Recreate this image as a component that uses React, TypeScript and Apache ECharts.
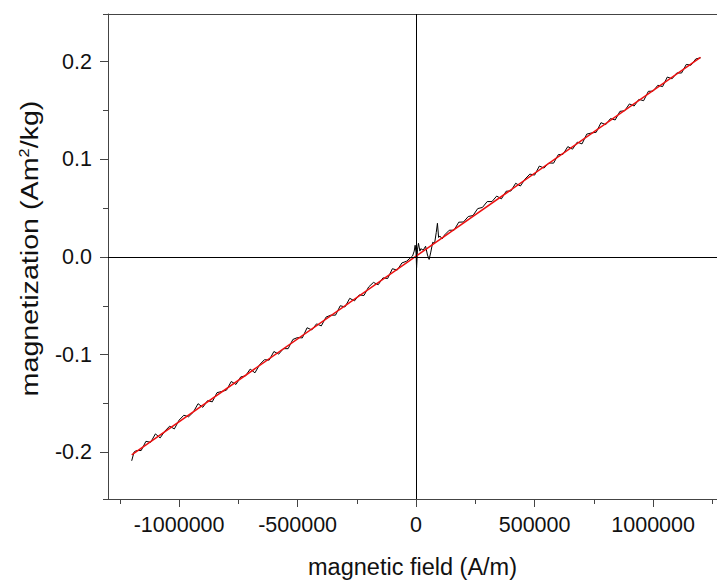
import React, { useEffect, useRef } from "react";
import * as echarts from "echarts";

// magnetic field (A/m) of the measured curve
const fieldValues = [
  -1200000, -1190000, -1180000, -1160000, -1140000, -1120000, -1100000, -1080000, -1060000, -1040000,
  -1020000, -1000000, -980000, -960000, -940000, -920000, -900000, -880000, -860000, -840000,
  -820000, -800000, -780000, -760000, -740000, -720000, -700000, -680000, -660000, -640000,
  -620000, -600000, -580000, -560000, -540000, -520000, -500000, -480000, -460000, -440000,
  -420000, -400000, -380000, -360000, -340000, -320000, -300000, -280000, -260000, -240000,
  -220000, -200000, -180000, -160000, -140000, -120000, -100000, -80000, -60000, -40000,
  -20000, -15000, -8000, -4000, 0, 2000, 6000, 10000, 16000, 20000,
  30000, 40000, 48000, 55000, 62000, 70000, 78000, 85000, 90000, 95000,
  100000, 110000, 120000, 140000, 160000, 180000, 200000, 220000, 240000, 260000,
  280000, 300000, 320000, 340000, 360000, 380000, 400000, 420000, 440000, 460000,
  480000, 500000, 520000, 540000, 560000, 580000, 600000, 620000, 640000, 660000,
  680000, 700000, 720000, 740000, 760000, 780000, 800000, 820000, 840000, 860000,
  880000, 900000, 920000, 940000, 960000, 980000, 1000000, 1020000, 1040000, 1060000,
  1080000, 1100000, 1120000, 1140000, 1160000, 1180000, 1200000,
];

// measured magnetization (Am^2/kg)
const magnetization = [
  -0.2085, -0.1995, -0.198, -0.198, -0.1886, -0.1896, -0.181, -0.1851, -0.1781, -0.1731,
  -0.1759, -0.1669, -0.1619, -0.1635, -0.1587, -0.1501, -0.1538, -0.147, -0.1482, -0.1388,
  -0.1376, -0.1362, -0.1274, -0.1304, -0.1227, -0.1217, -0.1147, -0.1185, -0.1101, -0.1051,
  -0.1055, -0.0967, -0.0994, -0.0938, -0.0938, -0.0844, -0.0824, -0.0828, -0.0724, -0.0746,
  -0.0684, -0.0705, -0.0615, -0.0595, -0.0595, -0.0499, -0.0511, -0.0423, -0.0449, -0.0388,
  -0.0394, -0.0306, -0.026, -0.0284, -0.0214, -0.022, -0.012, -0.0135, -0.0061, -0.0043,
  0.0, 0.001, 0.006, 0.012, 0.004, -0.011, 0.008, 0.014, 0.006, 0.0085,
  0.007, 0.011, 0.002, -0.0025, 0.005, 0.015, 0.014, 0.025, 0.0345, 0.02,
  0.0215, 0.0185, 0.0225, 0.0274, 0.0274, 0.0356, 0.0358, 0.0414, 0.0424, 0.0495,
  0.0507, 0.0567, 0.0567, 0.0623, 0.0595, 0.0673, 0.0675, 0.0754, 0.0726, 0.0798,
  0.0848, 0.0838, 0.093, 0.091, 0.0962, 0.096, 0.1047, 0.1051, 0.1129, 0.1103,
  0.1175, 0.1157, 0.1257, 0.1269, 0.1276, 0.1374, 0.1354, 0.1416, 0.1402, 0.149,
  0.1496, 0.1566, 0.1545, 0.1613, 0.1599, 0.1695, 0.1697, 0.1757, 0.1743, 0.1841,
  0.1823, 0.1883, 0.1882, 0.197, 0.1962, 0.2026, 0.2038,
];

// linear fit (red)
const fitField = [-1200000, 1200000];
const fitMagnetization = [-0.2024, 0.2042];

// axes
const xMin = -1300000;
const xMax = 1269600;
const yMin = -0.2476;
const yMax = 0.2486;
const xMajorTicks = [-1000000, -500000, 0, 500000, 1000000];
const xMinorTicks = [-1250000, -750000, -250000, 250000, 750000, 1250000];
const yMajorTicks = [-0.2, -0.1, 0, 0.1, 0.2];
const yMinorTicks = [yMin, -0.15, -0.05, 0.05, 0.15, yMax];
const xTitle = "magnetic field (A/m)";
const yTitle = "magnetization (Am{sup|2}/kg)";

const FONT = "'Liberation Sans', Arial, sans-serif";
const AXIS_COLOR = "#444";

export default function App() {
  const ref = useRef<HTMLDivElement>(null);

  useEffect(() => {
    if (!ref.current) return;
    const chart = echarts.init(ref.current, null, { renderer: "svg" });
    const measured = fieldValues.map((x, i) => [x, magnetization[i]]);
    const fit = fitField.map((x, i) => [x, fitMagnetization[i]]);

    const baseX = {
      type: "value",
      min: xMin,
      max: xMax,
      splitLine: { show: false },
    };
    const baseY = {
      type: "value",
      min: yMin,
      max: yMax,
      splitLine: { show: false },
    };

    chart.setOption({
      animation: false,
      backgroundColor: "#fff",
      grid: { left: 108, right: 0, top: 14, bottom: 83, containLabel: false, outerBoundsMode: "none" },
      graphic: [
        {
          type: "text",
          x: 29.5,
          y: 248.5,
          rotation: Math.PI / 2,
          scaleX: 1.17,
          silent: true,
          style: {
            text: yTitle,
            fontSize: 24.5,
            fontFamily: FONT,
            fill: "#111",
            align: "center",
            verticalAlign: "middle",
            rich: {
              sup: { fontSize: 14, fontFamily: FONT, fill: "#111", padding: [0, 0, 12, 0] },
            },
          },
        },
      ],
      xAxis: [
        {
          ...baseX,
          position: "bottom",
          axisLine: { show: true, onZero: false, lineStyle: { color: AXIS_COLOR, width: 1 } },
          axisTick: { show: true, inside: false, length: 8, customValues: xMajorTicks, lineStyle: { color: AXIS_COLOR } },
          axisLabel: {
            show: true,
            customValues: xMajorTicks,
            margin: 15,
            fontSize: 21.5,
            fontFamily: FONT,
            color: "#111",
            formatter: (v: number) => String(Math.round(v)),
          },
          name: xTitle,
          nameLocation: "middle",
          nameGap: 56,
          nameTextStyle: { fontSize: 23.5, fontFamily: FONT, color: "#111" },
        },
        {
          ...baseX,
          position: "bottom",
          axisLine: { show: false, onZero: false },
          axisTick: { show: true, length: 5, customValues: xMinorTicks, lineStyle: { color: AXIS_COLOR } },
          axisLabel: { show: false },
        },
        {
          ...baseX,
          position: "top",
          axisLine: { show: true, onZero: false, lineStyle: { color: AXIS_COLOR, width: 1 } },
          axisTick: { show: false },
          axisLabel: { show: false },
        },
      ],
      yAxis: [
        {
          ...baseY,
          position: "left",
          axisLine: { show: true, onZero: false, lineStyle: { color: AXIS_COLOR, width: 1 } },
          axisTick: { show: true, length: 8, customValues: yMajorTicks, lineStyle: { color: AXIS_COLOR } },
          axisLabel: {
            show: true,
            customValues: yMajorTicks,
            margin: 16,
            fontSize: 21.5,
            fontFamily: FONT,
            color: "#111",
            formatter: (v: number) => v.toFixed(1),
          },
        },
        {
          ...baseY,
          position: "left",
          axisLine: { show: false, onZero: false },
          axisTick: { show: true, length: 5, customValues: yMinorTicks, lineStyle: { color: AXIS_COLOR } },
          axisLabel: { show: false },
        },
      ],
      series: [
        {
          type: "line",
          name: "measured",
          xAxisIndex: 0,
          yAxisIndex: 0,
          data: measured,
          showSymbol: false,
          symbol: "none",
          lineStyle: { color: "#000", width: 1 },
          itemStyle: { color: "#000" },
          z: 3,
          markLine: {
            silent: true,
            symbol: ["none", "none"],
            label: { show: false },
            lineStyle: { color: "#000", width: 1, type: "solid" },
            emphasis: { disabled: true },
            data: [{ xAxis: 0 }, { yAxis: 0 }],
          },
        },
        {
          type: "line",
          name: "fit",
          xAxisIndex: 0,
          yAxisIndex: 0,
          data: fit,
          showSymbol: false,
          symbol: "none",
          lineStyle: { color: "#ee1111", width: 1.5 },
          itemStyle: { color: "#ee1111" },
          z: 4,
        },
      ],
    });
    return () => chart.dispose();
  }, []);

  return (
    <div
      ref={ref}
      style={{ position: "fixed", left: 0, top: 0, width: 717, height: 582, background: "#fff" }}
    />
  );
}
